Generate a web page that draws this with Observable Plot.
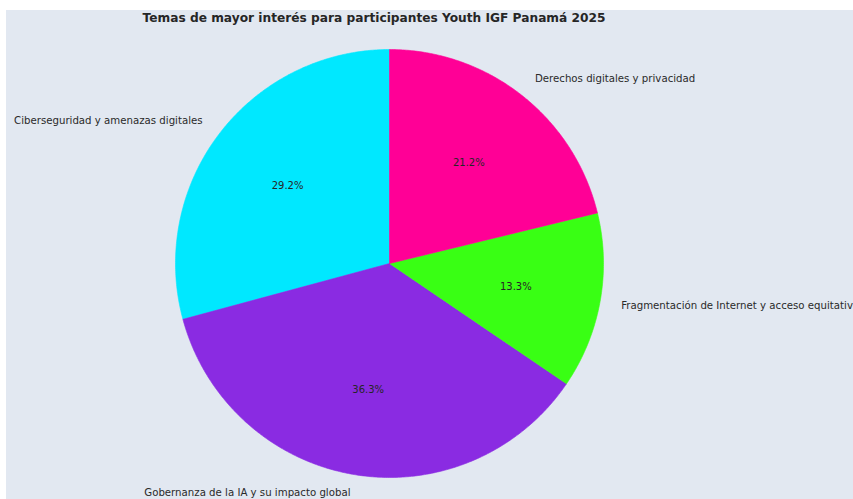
<!DOCTYPE html>
<html><head><meta charset="utf-8">
<script src="https://cdn.jsdelivr.net/npm/d3@7"></script>
<script src="https://cdn.jsdelivr.net/npm/@observablehq/plot@0.6"></script>
<style>
body{margin:0;background:#fff;}
#chart{position:absolute;left:6px;top:10px;}
</style>
</head><body><div id="chart"></div>
<script>
const title = "Temas de mayor interés para participantes Youth IGF Panamá 2025";
const categories = [
  "Ciberseguridad y amenazas digitales",
  "Gobernanza de la IA y su impacto global",
  "Fragmentación de Internet y acceso equitativo",
  "Derechos digitales y privacidad"
];
const shares = [29.2, 36.3, 13.3, 21.2];
const colors = ["#00E8FF", "#8A2BE2", "#39FF14", "#FF0096"];

const W = 847, H = 489, CX = 383, CY = 253, R = 214;
const total = d3.sum(shares);
const startDeg = 90;

const polys = [];
const labels = [];
let a = startDeg;
categories.forEach((cat, i) => {
  const a0 = a, a1 = a + shares[i] / total * 360;
  polys.push({cat, x: 0, y: 0});
  const n = Math.ceil((a1 - a0) * 2);
  for (let k = 0; k <= n; k++) {
    const t = (a0 + (a1 - a0) * k / n) * Math.PI / 180;
    polys.push({cat, x: Math.cos(t), y: Math.sin(t)});
  }
  polys.push({cat, x: 0, y: 0});
  const m = (a0 + a1) / 2 * Math.PI / 180;
  labels.push({
    cat,
    pct: shares[i].toFixed(1) + "%",
    lx: 1.1 * Math.cos(m), ly: 1.1 * Math.sin(m),
    px: 0.6 * Math.cos(m), py: 0.6 * Math.sin(m),
    anchor: Math.cos(m) < 0 ? "end" : "start",
    low: Math.sin(m) < -0.9
  });
  a = a1;
});

const chart = Plot.plot({
  width: W, height: H,
  margin: 0,
  style: {background: "#E2E8F1", overflow: "hidden", fontFamily: "DejaVu Sans"},
  x: {type: "linear", domain: [-CX / R, (W - CX) / R], axis: null},
  y: {type: "linear", domain: [-(H - CY) / R, CY / R], axis: null},
  color: {domain: categories, range: colors},
  marks: [
    Plot.line(polys, {x: "x", y: "y", z: "cat", fill: "cat", stroke: "cat", strokeWidth: 0.6, curve: "linear"}),
    Plot.text(labels.filter(d => d.anchor === "end" && !d.low), {x: "lx", y: "ly", text: "cat", textAnchor: "end", fontSize: 10.2, fill: "#2a2a2a"}),
    Plot.text(labels.filter(d => d.anchor === "end" && d.low), {x: "lx", y: "ly", text: "cat", textAnchor: "end", dy: -3, fontSize: 10.2, fill: "#2a2a2a"}),
    Plot.text(labels.filter(d => d.anchor === "start"), {x: "lx", y: "ly", text: "cat", textAnchor: "start", fontSize: 10.2, fill: "#2a2a2a"}),
    Plot.text(labels, {x: "px", y: "py", text: "pct", fontSize: 10, fill: "#262626"}),
    Plot.text([title], {frameAnchor: "top", dx: -56, dy: 8, lineAnchor: "middle", text: d => d, fontSize: 12.2, fontWeight: "bold", fill: "#262626"})
  ]
});
document.getElementById("chart").appendChild(chart);
</script>
</body></html>
